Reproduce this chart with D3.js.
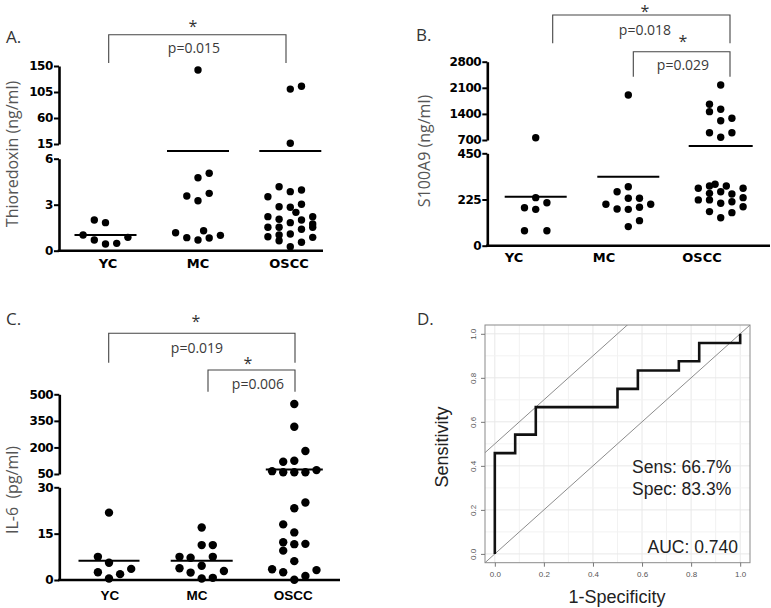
<!DOCTYPE html>
<html><head><meta charset="utf-8">
<script src="https://cdn.jsdelivr.net/npm/d3@7"></script>
<style>body{margin:0;background:#fff}</style>
</head><body>
<svg id="c" width="771" height="608"></svg>
<script>
// ---------------- DATA ----------------
const groups = ["YC", "MC", "OSCC"];

// Panel A: Thioredoxin (ng/ml)
const thxYC = [2.0, 1.83, 1.02, 0.70, 0.44, 0.48, 0.87];
const thxYCCol = [-1, 0, -2, -1, 0, 1, 2];
const thxMC = [143, 4.76, 5.05, 3.57, 3.26, 3.74, 1.17, 0.85, 0.70, 0.83, 1.0, 1.30];
const thxMCCol = [0, 0, 1, -1, 0, 1, -2, -1, 0, 1, 2, 0.5];
const thxOSCC = [110, 115, 16.2, 3.52, 4.17, 3.85, 3.96, 2.87, 2.83, 3.03, 2.50, 2.22, 2.05, 1.83, 2.00, 2.22, 1.74, 1.53, 1.53, 1.09, 1.40, 1.53, 0.91, 1.02, 0.65, 0.26, 0.55, 0.87];
const thxOSCCCol = [0, 1, 0, -2, -1, 0, 1, -1, 0, 1, 0.5, -2, -1, 0, 1, 2, 2, -2, -1, 0, 1, 2, -2, -1, -1, 0, 1, 2];
const thxMean = [1.02, 10.7, 10.7];
const thxTicksLow = [0, 3, 6];
const thxTicksHigh = [15, 60, 105, 150];
const thxP = ["p=0.015"];

// Panel B: S100A9 (ng/ml)
const s100YC = [760, 234, 185, 177, 209, 73, 73];
const s100YCCol = [0, 0, -1, 0, 1, -1, 1];
const s100MC = [1906, 287, 263, 231, 231, 202, 179, 177, 187, 202, 122, 93];
const s100MCCol = [0, 0, -1, 1, 0, -2, -1, 0, 1, 2, 1, 0];
const s100OSCC = [2175, 1657, 1460, 1523, 1217, 1282, 896, 772, 896,
  280, 291, 299, 291, 280, 255, 263, 252, 223, 223, 207, 214, 234, 190, 166, 136, 161];
const s100OSCCCol = [0, -1, -1, 0, 0, 1, -1, 0, 1,
  -2, -1, -0.5, 0.5, 2, -1, 0, 1, -2, -1, 0, 1, 2, 2, -1, 0, 1];
const s100Mean = [239, 336, 587];
const s100TicksLow = [0, 225, 450];
const s100TicksHigh = [700, 1400, 2100, 2800];
const s100P = ["p=0.018", "p=0.029"];

// Panel C: IL-6 (pg/ml)
const il6YC = [21.8, 7.5, 5.6, 2.5, 1.9, 3.6, 0.5];
const il6YCCol = [0, -1, 0, -1, 1, 2, 0];
const il6MC = [17.0, 11.3, 11.3, 7.5, 7.2, 7.5, 4.6, 3.8, 2.4, 2.9, 0.5, 0.7];
const il6MCCol = [0, 0, 1, -2, -1, 1, 0, -2, -1, 2, 0, 1];
const il6OSCC = [445, 317, 180, 119, 125, 66, 60, 60, 60, 72,
  25.1, 23.2, 18.0, 15.4, 12.2, 11.6, 11.7, 9.5, 6.1, 3.5, 2.5, 3.2, 1.3, 0.1];
const il6OSCCCol = [0, 0, 1, -1, 0, -2, -1, 0, 1, 2,
  1, 0, -1, 0, -1, 0, 1, -1, 0, -2, -1, 2, 1, 0];
const il6Mean = [6.2, 6.2, 76];
const il6TicksLow = [0, 15, 30];
const il6TicksHigh = [50, 200, 350, 500];
const il6P = ["p=0.019", "p=0.006"];

// Panel D: ROC curve
const rocFpr = [0, 0, 0.083, 0.083, 0.167, 0.167, 0.5, 0.5, 0.583, 0.583, 0.75, 0.75, 0.833, 0.833, 1, 1];
const rocTpr = [0, 0.458, 0.458, 0.542, 0.542, 0.667, 0.667, 0.75, 0.75, 0.833, 0.833, 0.875, 0.875, 0.958, 0.958, 1];
const rocTicks = [0, 0.2, 0.4, 0.6, 0.8, 1.0];
const refIntercepts = [0, 0.5];
const rocStats = ["Sens: 66.7%", "Spec: 83.3%", "AUC: 0.740"];

// ---------------- DRAWING ----------------
const svg = d3.select("#c");
const TITLE_FONT = "'Open Sans', 'DejaVu Sans', sans-serif";
const TICK_FONT = "'DejaVu Sans', sans-serif";

function dotPanel(cfg) {
  const g = svg.append("g");
  const y = d3.scaleLinear().domain(cfg.yDomain).range(cfg.yRange);
  const lab = d3.scaleOrdinal().domain(groups).range(cfg.labelX);
  const dx = d3.scaleOrdinal().domain(groups).range(cfg.dataX);

  // y axis segments (broken axis)
  cfg.segments.forEach(s => {
    const sc = d3.scaleLinear().domain(s.domain).range([y(s.domain[0]), y(s.domain[1])]);
    g.append("g").attr("transform", `translate(${cfg.axisX},0)`)
      .call(d3.axisLeft(sc).tickValues(s.ticks).tickSize(5).tickSizeOuter(0).tickPadding(1).tickFormat(d3.format("d")))
      .call(a => {
        a.select(".domain").attr("stroke", "#000").attr("stroke-width", 2.6);
        a.selectAll(".tick line").attr("stroke", "#000").attr("stroke-width", 2);
        a.selectAll(".tick text").attr("font-family", TICK_FONT).attr("font-weight", "bold")
          .attr("font-size", 12).attr("fill", "#000").attr("letter-spacing", -0.4);
      });
  });
  // x axis line
  g.append("line").attr("x1", cfg.axisX - 1.3).attr("x2", cfg.xEnd)
    .attr("y1", y(0)).attr("y2", y(0)).attr("stroke", "#000").attr("stroke-width", 2.6);
  // category labels
  g.selectAll("text.cat").data(groups).join("text")
    .attr("x", d => lab(d)).attr("y", cfg.catY).attr("text-anchor", "middle")
    .attr("font-family", cfg.catFont || TICK_FONT).attr("font-weight", "bold").attr("font-size", cfg.catSize || 13)
    .text(d => d);
  // dots
  cfg.series.forEach((s, i) => {
    const gi = groups[i];
    g.selectAll(null).data(s.values.map((v, k) => ({ v, c: s.cols[k] }))).join("circle")
      .attr("cx", d => dx(gi) + d.c * cfg.slot).attr("cy", d => y(d.v))
      .attr("r", cfg.r).attr("fill", "#000");
  });
  // mean lines
  g.selectAll("line.mean").data(cfg.means).join("line")
    .attr("x1", (d, i) => dx(groups[i]) - cfg.meanHalf[i]).attr("x2", (d, i) => dx(groups[i]) + cfg.meanHalf[i])
    .attr("y1", d => y(d)).attr("y2", d => y(d)).attr("stroke", "#000").attr("stroke-width", 2);
  // y title
  g.append("text").attr("transform", `translate(${cfg.titleX},${cfg.titleY}) rotate(-90)`)
    .attr("text-anchor", "middle").attr("font-family", TITLE_FONT).attr("font-size", 16)
    .attr("fill", "#555").attr("xml:space", "preserve").text(cfg.title);
  // panel letter
  g.append("text").attr("x", cfg.letterX).attr("y", cfg.letterY).attr("font-family", TITLE_FONT)
    .attr("font-size", 17).attr("fill", "#333").text(cfg.letter);
  // brackets
  cfg.brackets.forEach(b => {
    g.append("path").attr("d", `M${b.x1},${b.leg1}V${b.top}H${b.x2}V${b.leg2}`)
      .attr("fill", "none").attr("stroke", "#444").attr("stroke-width", 1.1);
    g.append("text").attr("x", b.sx).attr("y", b.sy).attr("text-anchor", "middle")
      .attr("font-family", TITLE_FONT).attr("font-size", 16).attr("fill", "#333").text("*");
    g.append("text").attr("x", b.px).attr("y", b.py).attr("text-anchor", "middle")
      .attr("font-family", TITLE_FONT).attr("font-size", 14).attr("fill", "#3a3a3a").text(b.p);
  });
}

// Panel A
dotPanel({
  letter: "A.", letterX: 6, letterY: 43,
  title: "Thioredoxin (ng/ml)", titleX: 18, titleY: 154,
  yDomain: [0, 6, 15, 150], yRange: [250.7, 158.7, 144, 66],
  segments: [{ domain: [0, 6], ticks: thxTicksLow }, { domain: [15, 150], ticks: thxTicksHigh }],
  axisX: 59, xEnd: 323, catY: 268,
  labelX: [108, 198, 289], dataX: [105.5, 198, 290.3], slot: 11.2, r: 3.7,
  meanHalf: [31, 31, 31],
  series: [{ values: thxYC, cols: thxYCCol }, { values: thxMC, cols: thxMCCol }, { values: thxOSCC, cols: thxOSCCCol }],
  means: thxMean,
  brackets: [{ x1: 108.7, x2: 286, top: 34.7, leg1: 63, leg2: 63, sx: 193, sy: 32, px: 194, py: 53, p: thxP[0] }]
});

// Panel B
dotPanel({
  letter: "B.", letterX: 416, letterY: 41,
  title: "S100A9 (ng/ml)", titleX: 430, titleY: 151,
  yDomain: [0, 450, 700, 2800], yRange: [245.7, 153.3, 140, 61.7],
  segments: [{ domain: [0, 450], ticks: s100TicksLow }, { domain: [700, 2800], ticks: s100TicksHigh }],
  axisX: 487.3, xEnd: 770, catY: 262,
  labelX: [514, 604, 702], dataX: [535.7, 628.3, 720.7], slot: 11.2, r: 3.7,
  meanHalf: [31, 31, 32],
  series: [{ values: s100YC, cols: s100YCCol }, { values: s100MC, cols: s100MCCol }, { values: s100OSCC, cols: s100OSCCCol }],
  means: s100Mean,
  brackets: [
    { x1: 552.7, x2: 730, top: 15, leg1: 43.3, leg2: 43.3, sx: 645, sy: 16.5, px: 645, py: 35, p: s100P[0] },
    { x1: 633.3, x2: 730, top: 51.7, leg1: 76.7, leg2: 76.7, sx: 683, sy: 47, px: 683, py: 70, p: s100P[1] }
  ]
});

// Panel C
dotPanel({
  letter: "C.", letterX: 6, letterY: 325,
  title: "IL-6  (pg/ml)", titleX: 18, titleY: 490,
  yDomain: [0, 30, 50, 500], yRange: [580, 487.3, 474, 394.3],
  segments: [{ domain: [0, 30], ticks: il6TicksLow }, { domain: [50, 500], ticks: il6TicksHigh }],
  axisX: 59.3, xEnd: 340, catY: 600, catSize: 13.5, catFont: "'Liberation Sans', Arial, sans-serif",
  labelX: [110, 197, 293.3], dataX: [109, 201.7, 294.3], slot: 11.1, r: 4.2,
  meanHalf: [30.5, 31, 28.5],
  series: [{ values: il6YC, cols: il6YCCol }, { values: il6MC, cols: il6MCCol }, { values: il6OSCC, cols: il6OSCCCol }],
  means: il6Mean,
  brackets: [
    { x1: 108.7, x2: 295, top: 333.3, leg1: 362.7, leg2: 362.7, sx: 196, sy: 327, px: 197, py: 353, p: il6P[0] },
    { x1: 208, x2: 295, top: 370, leg1: 391.7, leg2: 391.7, sx: 248, sy: 369, px: 258, py: 389, p: il6P[1] }
  ]
});

// Panel D: ROC
(function () {
  const g = svg.append("g");
  const L = 485, R = 750, T = 325, B = 562.7;
  const x = d3.scaleLinear().domain([-0.04, 1.04]).range([L, R]);
  const y = d3.scaleLinear().domain([-0.04, 1.04]).range([B, T]);
  const FONT = "'Liberation Sans', Arial, sans-serif";

  g.append("text").attr("x", 417).attr("y", 325).attr("font-family", TITLE_FONT)
    .attr("font-size", 17).attr("fill", "#333").text("D.");

  g.append("clipPath").attr("id", "clipD").append("rect")
    .attr("x", L).attr("y", T).attr("width", R - L).attr("height", B - T);
  const inner = g.append("g").attr("clip-path", "url(#clipD)");
  const grid = d3.range(0, 11).map(i => i / 10);
  inner.selectAll("line.gx").data(grid).join("line")
    .attr("x1", d => x(d)).attr("x2", d => x(d)).attr("y1", T).attr("y2", B)
    .attr("stroke", d => (Math.round(d * 10) % 2 === 0) ? "#e8e8e8" : "#f2f2f2").attr("stroke-width", 1);
  inner.selectAll("line.gy").data(grid).join("line")
    .attr("y1", d => y(d)).attr("y2", d => y(d)).attr("x1", L).attr("x2", R)
    .attr("stroke", d => (Math.round(d * 10) % 2 === 0) ? "#e8e8e8" : "#f2f2f2").attr("stroke-width", 1);
  inner.selectAll("line.ref").data(refIntercepts).join("line")
    .attr("x1", x(-0.1)).attr("y1", d => y(-0.1 + d)).attr("x2", x(1.2)).attr("y2", d => y(1.2 + d))
    .attr("stroke", "#8c8c8c").attr("stroke-width", 1);

  const pts = rocFpr.map((f, i) => [f, rocTpr[i]]);
  inner.append("path").attr("d", d3.line().x(d => x(d[0])).y(d => y(d[1]))(pts))
    .attr("fill", "none").attr("stroke", "#111").attr("stroke-width", 2.6);

  g.append("rect").attr("x", L).attr("y", T).attr("width", R - L).attr("height", B - T)
    .attr("fill", "none").attr("stroke", "#8a8a8a").attr("stroke-width", 1);

  g.append("g").attr("transform", `translate(0,${B})`)
    .call(d3.axisBottom(x).tickValues(rocTicks).tickSize(4).tickPadding(5).tickFormat(d3.format(".1f")))
    .call(a => {
      a.select(".domain").remove();
      a.selectAll(".tick line").attr("stroke", "#777");
      a.selectAll(".tick text").attr("font-family", FONT).attr("font-size", 8).attr("fill", "#555");
    });
  g.append("g").attr("transform", `translate(${L},0)`)
    .call(d3.axisLeft(y).tickValues(rocTicks).tickSize(4).tickPadding(5).tickFormat(d3.format(".1f")))
    .call(a => {
      a.select(".domain").remove();
      a.selectAll(".tick line").attr("stroke", "#777");
      a.selectAll(".tick text").attr("font-family", FONT).attr("font-size", 8).attr("fill", "#555")
        .attr("text-anchor", "middle").attr("dy", 0).attr("transform", "translate(-9,0) rotate(-90)").attr("x", 0);
    });

  g.append("text").attr("transform", "translate(448,447) rotate(-90)").attr("text-anchor", "middle")
    .attr("font-family", FONT).attr("font-size", 18).attr("fill", "#222").text("Sensitivity");
  g.append("text").attr("x", 617).attr("y", 603).attr("text-anchor", "middle")
    .attr("font-family", FONT).attr("font-size", 18).attr("fill", "#222").text("1-Specificity");

  g.append("text").attr("x", 632).attr("y", 473).attr("font-family", FONT).attr("font-size", 17.5)
    .attr("fill", "#222").text(rocStats[0]);
  g.append("text").attr("x", 632).attr("y", 495).attr("font-family", FONT).attr("font-size", 17.5)
    .attr("fill", "#222").text(rocStats[1]);
  g.append("text").attr("x", 738).attr("y", 553).attr("text-anchor", "end").attr("font-family", FONT)
    .attr("font-size", 17.5).attr("fill", "#222").text(rocStats[2]);
})();
</script>
</body></html>
